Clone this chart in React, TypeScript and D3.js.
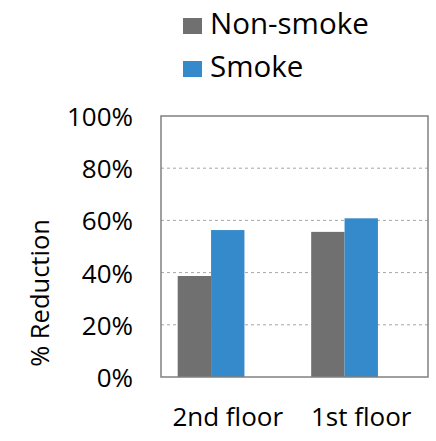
import React from 'react';
import * as d3 from 'd3';

const width = 436;
const height = 441;
const margin = { top: 116, right: 8, bottom: 64, left: 161 };

const categories = ['2nd floor', '1st floor'];
const seriesNames = ['Non-smoke', 'Smoke'];
const nonSmoke = [0.387, 0.556];
const smoke = [0.563, 0.608];
const colors = ['#707070', '#358acb'];
const yTicks = [0, 0.2, 0.4, 0.6, 0.8, 1];

const font = '"Open Sans", "Noto Sans", sans-serif';

export default function App() {
    const innerRight = width - margin.right;
    const innerBottom = height - margin.bottom;

    const xScale = d3.scaleBand().domain(categories).range([margin.left, innerRight]);
    // excel leaves room for a third (empty) slot, so bars sit left in each band
    const subScale = d3
        .scaleBand()
        .domain([...seriesNames, 'empty'])
        .range([0, xScale.bandwidth()])
        .paddingOuter(0.5);
    const yScale = d3.scaleLinear().domain([0, 1]).range([innerBottom, margin.top]);
    const fmt = d3.format('.0%');

    const values = [nonSmoke, smoke];

    return (
        <svg width={width} height={height} style={{ position: 'absolute', left: 0, top: 0 }}>
            <rect x={0} y={0} width={width} height={height} fill="#fff" />

            {yTicks.slice(1, -1).map(t => (
                <line
                    key={t}
                    x1={margin.left}
                    x2={innerRight}
                    y1={yScale(t)}
                    y2={yScale(t)}
                    stroke="#a6a6a6"
                    strokeWidth={1}
                    strokeDasharray="3,3"
                />
            ))}

            {categories.map((c, i) => (
                <g key={c}>
                    {seriesNames.map((s, k) => (
                        <rect
                            key={s}
                            x={xScale(c)! + subScale(s)!}
                            y={yScale(values[k][i])}
                            width={subScale.bandwidth()}
                            height={innerBottom - yScale(values[k][i])}
                            fill={colors[k]}
                        />
                    ))}
                </g>
            ))}

            <rect
                x={margin.left}
                y={margin.top}
                width={innerRight - margin.left}
                height={innerBottom - margin.top}
                fill="none"
                stroke="#808080"
                strokeWidth={1.5}
            />

            {yTicks.map(t => (
                <text
                    key={t}
                    x={133}
                    y={yScale(t) + 10}
                    textAnchor="end"
                    fontFamily={font}
                    fontSize={26}
                    fill="#000"
                >
                    {fmt(t)}
                </text>
            ))}

            {categories.map(c => (
                <text
                    key={c}
                    x={xScale(c)! + xScale.bandwidth() / 2}
                    y={426}
                    textAnchor="middle"
                    fontFamily={font}
                    fontSize={26}
                    fill="#000"
                >
                    {c}
                </text>
            ))}

            <text
                transform={`translate(49, 293) rotate(-90)`}
                textAnchor="middle"
                fontFamily={font}
                fontSize={25.5}
                fill="#000"
            >
                % Reduction
            </text>

            {seriesNames.map((s, k) => (
                <g key={s} transform={`translate(183, ${18 + k * 43})`}>
                    <rect x={0} y={0} width={19} height={16} fill={colors[k]} />
                    <text x={27} y={16} fontFamily={font} fontSize={29.5} fill="#000">
                        {s}
                    </text>
                </g>
            ))}
        </svg>
    );
}
